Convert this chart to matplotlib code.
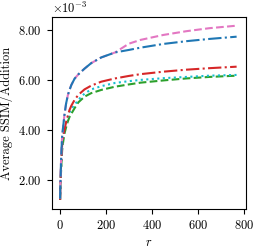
import numpy as np
import matplotlib
matplotlib.use("Agg")
import matplotlib.pyplot as plt
from matplotlib.ticker import ScalarFormatter

plt.rcParams['font.family'] = 'serif'
plt.rcParams['font.serif'] = ['cmr10']
plt.rcParams['mathtext.fontset'] = 'cm'
plt.rcParams['axes.unicode_minus'] = False
plt.rcParams['axes.formatter.use_mathtext'] = True

# r values and average SSIM per addition (units of 1e-3)
r = [1, 2, 3, 5, 7, 10, 14, 20, 27, 35, 42, 50, 64, 80, 107, 136, 180, 240,
     300, 350, 450, 550, 650, 768]
blue = [1.25, 1.7, 2.0, 2.7, 3.2, 3.75, 4.1, 4.6, 5.05, 5.4, 5.6, 5.8, 6.05, 6.22,
        6.45, 6.67, 6.9, 7.1, 7.2, 7.29, 7.44, 7.55, 7.64, 7.73]
pink = [1.25, 1.7, 2.0, 2.7, 3.2, 3.75, 4.1, 4.6, 5.05, 5.4, 5.6, 5.8, 6.05, 6.22,
        6.45, 6.67, 6.9, 7.1, 7.45, 7.6, 7.8, 7.95, 8.07, 8.17]
red = [1.2, 1.6, 2.0, 2.5, 2.9, 3.4, 3.75, 4.0, 4.3, 4.58, 4.8, 4.97, 5.2, 5.4,
       5.62, 5.77, 5.93, 6.06, 6.16, 6.23, 6.33, 6.41, 6.47, 6.53]
cyan = [1.2, 1.55, 1.9, 2.4, 2.8, 3.3, 3.65, 4.0, 4.27, 4.5, 4.7, 4.85, 5.0, 5.2,
        5.45, 5.62, 5.75, 5.88, 5.95, 6.0, 6.07, 6.12, 6.17, 6.2]
green = [1.2, 1.5, 1.8, 2.3, 2.7, 3.2, 3.5, 3.85, 4.1, 4.35, 4.52, 4.65, 4.87, 5.1,
         5.33, 5.47, 5.6, 5.73, 5.82, 5.89, 5.98, 6.06, 6.12, 6.17]

class Fmt(ScalarFormatter):
    def _set_format(self):
        self.format = r'$\mathdefault{%1.2f}$'

fig = plt.figure(figsize=(2.59, 2.49), dpi=100)
ax = fig.add_axes([0.2, 0.161, 0.75, 0.771])

s = 1e-3
ax.plot(r, np.array(green)*s, '--', color='#2ca02c', lw=1.5)
ax.plot(r, np.array(cyan)*s, ':', color='#17becf', lw=1.5)
ax.plot(r, np.array(red)*s, '-.', color='#d62728', lw=1.5)
ax.plot(r, np.array(pink)*s, '--', color='#e377c2', lw=1.5)
ax.plot(r, np.array(blue)*s, '-.', color='#1f77b4', lw=1.5)

ax.set_xticks([0, 200, 400, 600, 800])
ax.set_yticks([2e-3, 4e-3, 6e-3, 8e-3])
fmt = Fmt(useMathText=True)
fmt.set_powerlimits((0, 0))
ax.yaxis.set_major_formatter(fmt)
ax.set_xlim(-35, 809)
ax.set_ylim(0.84e-3, 8.52e-3)
ax.tick_params(labelsize=9)
ax.yaxis.get_offset_text().set_fontsize(9)
ax.set_xlabel('$r$', fontsize=9)
ax.set_ylabel('Average SSIM/Addition', fontsize=9)

plt.savefig('out.png', dpi=100)
